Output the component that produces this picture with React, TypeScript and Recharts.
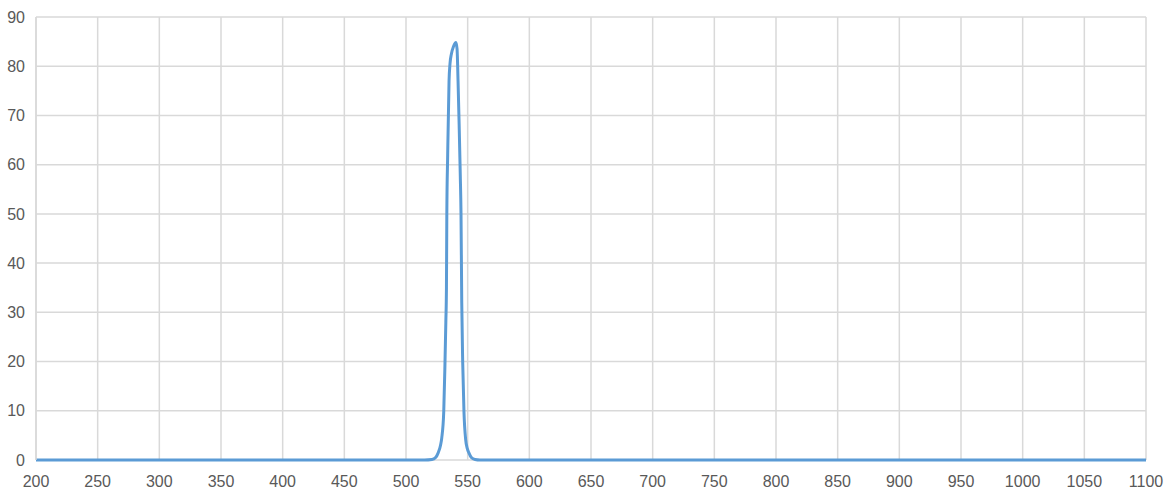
import React from "react";
import { LineChart, Line, XAxis, YAxis, CartesianGrid } from "recharts";

const wavelengths = [200, 400, 515, 521, 524, 526, 528, 529, 530.6, 531.6, 532.3, 532.8, 533.1, 533.8, 534.9, 535.7, 536.8, 538.5, 540.5, 541.4, 542.2, 543.1, 544, 544.6, 545.2, 546, 547, 548.4, 549.6, 551.1, 553, 556, 560, 800, 1100];
const transmission = [0, 0, 0, 0.1, 0.5, 1.4, 3, 4.5, 9.8, 19.6, 28, 35, 50, 62, 77, 80.6, 82.5, 84, 84.8, 83.5, 77, 68, 58, 50, 32, 19.6, 9.8, 4.1, 2.4, 1.4, 0.5, 0.1, 0, 0, 0];
const xTicks = [200, 250, 300, 350, 400, 450, 500, 550, 600, 650, 700, 750, 800, 850, 900, 950, 1000, 1050, 1100];
const yTicks = [0, 10, 20, 30, 40, 50, 60, 70, 80, 90];

const data = wavelengths.map((w, i) => ({ w, t: transmission[i] }));

const tickStyle = { fill: "#595959", fontSize: 16, fontFamily: "Liberation Sans, Arial, sans-serif" };

export default function App() {
  return (
    <div style={{ position: "absolute", left: 0, top: 0, width: 1168, height: 495, background: "#fff" }}>
      <LineChart width={1168} height={495} data={data} margin={{ top: 17, right: 22, bottom: 0, left: 0 }}>
        <CartesianGrid stroke="#d9d9d9" strokeWidth={1.5} vertical horizontal />
        <XAxis
          dataKey="w"
          type="number"
          domain={[200, 1100]}
          ticks={xTicks}
          interval={0}
          height={35}
          tickSize={0}
          tickMargin={16}
          axisLine={false}
          tick={tickStyle}
          allowDataOverflow
        />
        <YAxis
          type="number"
          domain={[0, 90]}
          ticks={yTicks}
          interval={0}
          width={36}
          tickSize={0}
          tickMargin={11}
          axisLine={{ stroke: "#d9d9d9", strokeWidth: 1.5 }}
          tick={tickStyle}
        />
        <Line
          dataKey="t"
          type="monotone"
          stroke="#5b9bd5"
          strokeWidth={3}
          dot={false}
          activeDot={false}
          isAnimationActive={false}
        />
      </LineChart>
    </div>
  );
}
